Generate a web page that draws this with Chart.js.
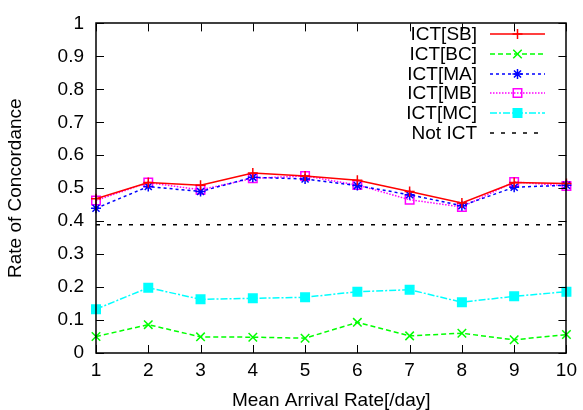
<!DOCTYPE html>
<html>
<head>
<meta charset="utf-8">
<script src="https://cdn.jsdelivr.net/npm/chart.js@4.4.1/dist/chart.umd.min.js"></script>
<style>
  html, body { margin: 0; padding: 0; background: #fff; }
  #wrap { width: 583px; height: 410px; }
</style>
</head>
<body>
<div id="wrap"><canvas id="chart" width="583" height="410"></canvas></div>
<script>
// Data
const arrivalRates = [1, 2, 3, 4, 5, 6, 7, 8, 9, 10];
const ictSB = [0.468, 0.517, 0.509, 0.546, 0.537, 0.524, 0.490, 0.455, 0.517, 0.514];
const ictBC = [0.050, 0.086, 0.049, 0.048, 0.045, 0.093, 0.052, 0.060, 0.040, 0.056];
const ictMA = [0.439, 0.505, 0.490, 0.533, 0.528, 0.508, 0.480, 0.447, 0.503, 0.509];
const ictMB = [0.463, 0.517, 0.495, 0.530, 0.537, 0.510, 0.465, 0.443, 0.519, 0.507];
const ictMC = [0.133, 0.198, 0.163, 0.166, 0.169, 0.186, 0.192, 0.154, 0.172, 0.186];
const notICT = [0.389, 0.389, 0.389, 0.389, 0.389, 0.389, 0.389, 0.389, 0.389, 0.389];
const yTicks = [0, 0.1, 0.2, 0.3, 0.4, 0.5, 0.6, 0.7, 0.8, 0.9, 1];

const FONT = 'Liberation Sans, Arial, Helvetica, sans-serif';
const FONT_SIZE = 19;

function pts(values) {
    return arrivalRates.map((x, i) => ({ x: x, y: values[i] }));
}

function series(label, values, color, dash, style, radius, fill) {
    return {
        label: label,
        data: pts(values),
        borderColor: color,
        backgroundColor: fill ? color : 'rgba(0,0,0,0)',
        borderWidth: 1.5,
        borderDash: dash,
        pointStyle: style,
        pointRadius: radius,
        pointBorderWidth: 1.5,
        pointBorderColor: color,
        pointBackgroundColor: fill ? color : 'rgba(0,0,0,0)',
        tension: 0,
        fill: false,
        clip: false
    };
}

// gnuplot-style frame with inward ticks on all four sides
const framePlugin = {
    id: 'frame',
    afterDraw(chart) {
        const ctx = chart.ctx;
        const a = chart.chartArea;
        const xs = chart.scales.x;
        const ys = chart.scales.y;
        const len = 8;
        ctx.save();
        ctx.strokeStyle = '#000';
        ctx.lineWidth = 1;
        ctx.setLineDash([]);
        ctx.beginPath();
        arrivalRates.forEach(v => {
            const px = Math.round(xs.getPixelForValue(v)) + 0.5;
            ctx.moveTo(px, a.bottom); ctx.lineTo(px, a.bottom - len);
            ctx.moveTo(px, a.top); ctx.lineTo(px, a.top + len);
        });
        yTicks.forEach(v => {
            const py = Math.round(ys.getPixelForValue(v)) + 0.5;
            ctx.moveTo(a.left, py); ctx.lineTo(a.left + len, py);
            ctx.moveTo(a.right, py); ctx.lineTo(a.right - len, py);
        });
        ctx.stroke();
        ctx.lineWidth = 1.5;
        ctx.strokeRect(Math.round(a.left), Math.round(a.top),
            Math.round(a.right - a.left), Math.round(a.bottom - a.top));
        ctx.restore();
    }
};

// Legend: right-aligned text with line sample on the right
const keyPlugin = {
    id: 'key',
    afterDraw(chart) {
        const ctx = chart.ctx;
        const textRight = 477;
        const lineStart = 490;
        const lineEnd = 545;
        const top = 34;
        const step = 19.8;
        ctx.save();
        ctx.font = FONT_SIZE + 'px ' + FONT;
        ctx.textAlign = 'right';
        ctx.textBaseline = 'middle';
        chart.data.datasets.forEach((ds, i) => {
            const y = Math.round(top + i * step);
            ctx.fillStyle = '#000';
            ctx.fillText(ds.label, textRight, y + 1);
            ctx.strokeStyle = ds.borderColor;
            ctx.lineWidth = ds.borderWidth;
            ctx.setLineDash(ds.borderDash || []);
            ctx.beginPath();
            ctx.moveTo(lineStart, y);
            ctx.lineTo(lineEnd, y);
            ctx.stroke();
            ctx.setLineDash([]);
            if (ds.pointRadius > 0) {
                ctx.fillStyle = ds.pointBackgroundColor;
                ctx.strokeStyle = ds.pointBorderColor;
                ctx.lineWidth = ds.pointBorderWidth;
                Chart.helpers.drawPoint(ctx, {
                    pointStyle: ds.pointStyle,
                    radius: ds.pointRadius,
                    rotation: 0,
                    borderWidth: ds.pointBorderWidth
                }, (lineStart + lineEnd) / 2, y);
            }
        });
        ctx.restore();
    }
};

new Chart(document.getElementById('chart'), {
    type: 'line',
    data: {
        datasets: [
            series('ICT[SB]', ictSB, '#ff0000', [], 'cross', 5, false),
            series('ICT[BC]', ictBC, '#00ff00', [5, 3], 'crossRot', 6, false),
            series('ICT[MA]', ictMA, '#0000ff', [3, 3], 'star', 5, false),
            series('ICT[MB]', ictMB, '#ff00ff', [1.5, 1.5], 'rect', 6, false),
            series('ICT[MC]', ictMC, '#00ffff', [7, 2, 2, 2], 'rect', 6, true),
            series('Not ICT', notICT, '#000000', [4, 7], 'circle', 0, false)
        ]
    },
    options: {
        responsive: false,
        animation: false,
        devicePixelRatio: 1,
        layout: { padding: { top: 16, right: 14, left: 0, bottom: 0 } },
        plugins: {
            legend: { display: false },
            tooltip: { enabled: false }
        },
        scales: {
            x: {
                type: 'linear',
                min: 1,
                max: 10,
                grid: { display: false, drawTicks: false },
                border: { display: false },
                afterFit: s => { s.height = 57; },
                ticks: {
                    stepSize: 1,
                    padding: 6,
                    color: '#000',
                    font: { family: FONT, size: FONT_SIZE },
                    maxRotation: 0,
                    autoSkip: false
                },
                title: {
                    display: true,
                    text: 'Mean Arrival Rate[/day]',
                    color: '#000',
                    font: { family: FONT, size: FONT_SIZE, lineHeight: 1 },
                    padding: 0
                }
            },
            y: {
                min: 0,
                max: 1,
                grid: { display: false, drawTicks: false },
                border: { display: false },
                afterFit: s => { s.width = 96; },
                ticks: {
                    stepSize: 0.1,
                    padding: 12,
                    color: '#000',
                    font: { family: FONT, size: FONT_SIZE },
                    callback: v => String(Number(v.toFixed(1)))
                },
                title: {
                    display: true,
                    text: 'Rate of Concordance',
                    color: '#000',
                    font: { family: FONT, size: FONT_SIZE, lineHeight: 1 },
                    padding: { top: 6, bottom: 0 }
                }
            }
        }
    },
    plugins: [framePlugin, keyPlugin]
});
</script>
</body>
</html>
